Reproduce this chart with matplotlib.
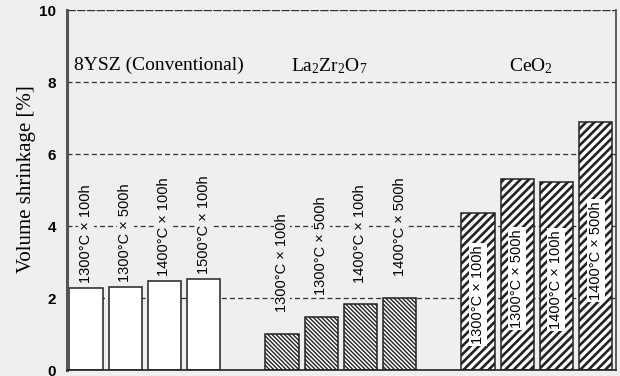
import numpy as np
import matplotlib.pyplot as plt

plt.rcParams['mathtext.fontset'] = 'custom'
plt.rcParams['mathtext.rm'] = 'Liberation Serif'
plt.rcParams['mathtext.it'] = 'Liberation Serif:italic'

GROUPS = ['8YSZ (Conventional)', r'La$_2$Zr$_2$O$_7$', r'CeO$_2$']
CONDITIONS = [
    ['1300°C × 100h', '1300°C × 500h', '1400°C × 100h', '1500°C × 100h'],
    ['1300°C × 100h', '1300°C × 500h', '1400°C × 100h', '1400°C × 500h'],
    ['1300°C × 100h', '1300°C × 500h', '1400°C × 100h', '1400°C × 500h'],
]
YSZ = [2.28, 2.30, 2.47, 2.53]
LZO = [1.00, 1.47, 1.83, 2.00]
CEO = [4.36, 5.30, 5.22, 6.90]

BG = '#efefef'

fig = plt.figure(figsize=(6.2, 3.76), dpi=100, facecolor=BG)
ax = fig.add_axes([67 / 620, 6 / 376, 549 / 620, 360 / 376], facecolor=BG)

for y in [2, 4, 6, 8]:
    ax.axhline(y, color='#333333', lw=0.9, ls=(0, (4, 2.5)), zorder=0)
ax.axhline(10, color='#333333', lw=1.0, ls=(0, (6, 1)), zorder=0)

data = [YSZ, LZO, CEO]
hatches = [None, '\\\\\\\\\\\\\\\\', '////']
hatch_lw = [0.7, 1.0, 1.9]
label_gap = [0.15, 0.6]
for g, vals in enumerate(data):
    pos = np.arange(4) + 5 * g
    with plt.rc_context({'hatch.linewidth': hatch_lw[g]}):
        bars = ax.bar(pos, vals, width=0.85, color='white', edgecolor='#222222',
                      linewidth=1.1, hatch=hatches[g], zorder=2)
    for b, v, p, lab in zip(bars, vals, pos, CONDITIONS[g]):
        if hasattr(b, 'set_hatch_linewidth'):
            b.set_hatch_linewidth(hatch_lw[g])
        if g < 2:
            ax.text(p, v + label_gap[g], lab, rotation=90, ha='center', va='bottom',
                    fontsize=10.5, family='Liberation Sans', zorder=3,
                    bbox=dict(facecolor=BG, edgecolor='none', pad=1.0))
        else:
            ax.text(p, v * 0.48, lab, rotation=90, ha='center', va='center',
                    fontsize=10.5, family='Liberation Sans', zorder=3,
                    bbox=dict(facecolor='white', edgecolor='none', pad=1.5))

ax.text(-0.3, 8.45, GROUPS[0], fontsize=14, family='Liberation Serif', va='center')
ax.text(6.2, 8.45, GROUPS[1], fontsize=14, family='Liberation Serif',
        ha='center', va='center')
ax.text(11.35, 8.45, GROUPS[2], fontsize=14, family='Liberation Serif',
        ha='center', va='center')

ax.set_xlim(-0.485, 13.52)
ax.set_ylim(0, 10)
ax.set_xticks([])
ax.set_yticks([0, 2, 4, 6, 8, 10])
ax.tick_params(axis='y', length=0, pad=8, labelsize=11)
for t in ax.get_yticklabels():
    t.set_fontweight('bold')
    t.set_family('Liberation Sans')
ax.set_ylabel('Volume shrinkage [%]', fontsize=15, family='Liberation Serif')
ax.yaxis.set_label_coords(-0.056, 0.53)

ax.spines['top'].set_visible(False)
ax.spines['left'].set_linewidth(2.2)
ax.spines['left'].set_color('#555555')
ax.spines['bottom'].set_linewidth(1.2)
ax.spines['bottom'].set_color('#222222')
ax.spines['right'].set_linewidth(1.2)
ax.spines['right'].set_color('#444444')

fig.savefig('out.png', dpi=100, facecolor=BG)
